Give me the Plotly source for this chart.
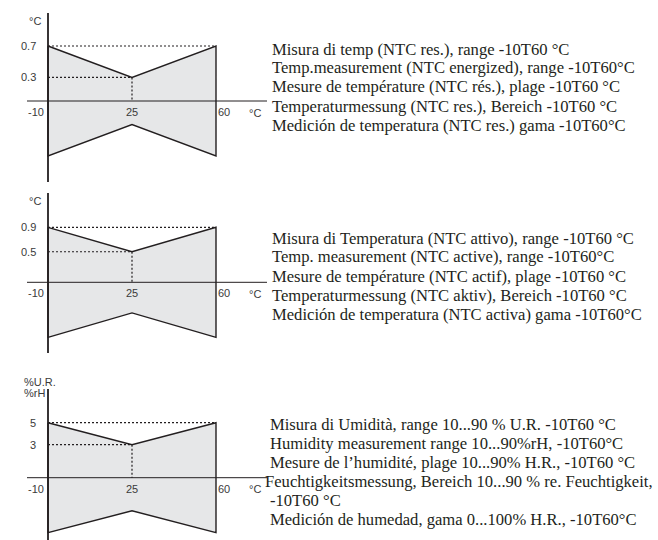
import plotly.graph_objects as go

W, H = 658, 540

# ---------------- data ----------------
x_points = [-10, 25, 60]
x_tick_labels = ["-10", "25", "60"]
x_unit = "°C"

tol_ntc_res = [0.7, 0.3, 0.7]        # °C
tol_ntc_active = [0.9, 0.5, 0.9]     # °C
tol_humidity = [5, 3, 5]             # %rH

y_units = [["°C"], ["°C"], ["%U.R.", "%rH"]]

text_ntc_res = [
    "Misura di temp (NTC res.), range -10T60 °C",
    "Temp.measurement (NTC energized), range -10T60°C",
    "Mesure de température (NTC rés.), plage -10T60 °C",
    "Temperaturmessung (NTC res.), Bereich -10T60 °C",
    "Medición de temperatura (NTC res.) gama -10T60°C",
]
text_ntc_active = [
    "Misura di Temperatura (NTC attivo), range -10T60 °C",
    "Temp. measurement (NTC active), range -10T60°C",
    "Mesure de température (NTC actif), plage -10T60 °C",
    "Temperaturmessung (NTC aktiv), Bereich -10T60 °C",
    "Medición de temperatura (NTC activa) gama -10T60°C",
]
text_humidity = [
    "Misura di Umidità, range 10...90 % U.R. -10T60 °C",
    "Humidity measurement range 10...90%rH, -10T60°C",
    "Mesure de l’humidité, plage 10...90% H.R., -10T60 °C",
    "Feuchtigkeitsmessung, Bereich 10...90 % re. Feuchtigkeit,",
    "-10T60 °C",
    "Medición de humedad, gama 0...100% H.R., -10T60°C",
]

series = [tol_ntc_res, tol_ntc_active, tol_humidity]
texts = [text_ntc_res, text_ntc_active, text_humidity]

# ---------------- layout geometry (pixels) ----------------
panels = [dict(top=13, axis=101, bottom=182, ty=49, tx=270),
          dict(top=193, axis=282.3, bottom=353, ty=238, tx=270),
          dict(top=389, axis=477.7, bottom=540, ty=424, tx=268)]
unit_y = [[20.7], [200.7], [381.7, 393.3]]
X_LEFT, X_RIGHT, X_YAXIS, X_60 = 27, 267, 48, 216
HALF = 55
LINE_SP = 19

INK = "#231f20"
LBL = "#3a3a3a"
FILL = "#e6e7e8"
SANS = "Liberation Sans Narrow, Arial Narrow, Liberation Sans, Arial, sans-serif"
SERIF = "Liberation Serif, Times New Roman, serif"

fig = go.Figure()
annotations = []
shapes = []
layout_axes = {}

s = (X_60 - X_YAXIS) / (x_points[-1] - x_points[0])
xr = [x_points[0] - (X_YAXIS - X_LEFT) / s, x_points[0] + (X_RIGHT - X_YAXIS) / s]

for i, (tol, p) in enumerate(zip(series, panels), start=1):
    k = HALF / max(tol)
    yr = [-(p["bottom"] - p["axis"]) / k, (p["axis"] - p["top"]) / k]
    xa = "x" if i == 1 else f"x{i}"
    ya = "y" if i == 1 else f"y{i}"
    xkey = "xaxis" if i == 1 else f"xaxis{i}"
    ykey = "yaxis" if i == 1 else f"yaxis{i}"
    layout_axes[xkey] = dict(domain=[X_LEFT / W, X_RIGHT / W], range=xr, anchor=ya,
                             showline=False, showgrid=False, zeroline=False,
                             showticklabels=False, ticks="", fixedrange=True)
    layout_axes[ykey] = dict(domain=[1 - p["bottom"] / H, 1 - p["top"] / H], range=yr, anchor=xa,
                             showline=False, showgrid=False, zeroline=False,
                             showticklabels=False, ticks="", fixedrange=True)

    # tolerance band
    bx = x_points + x_points[::-1] + [x_points[0]]
    by = tol + [-v for v in tol[::-1]] + [tol[0]]
    fig.add_trace(go.Scatter(x=bx, y=by, xaxis=xa, yaxis=ya, mode="lines",
                             fill="toself", fillcolor=FILL,
                             line=dict(color=INK, width=1.4), hoverinfo="skip"))
    # dotted guides
    fig.add_trace(go.Scatter(x=[x_points[0], x_points[2]], y=[tol[0], tol[2]],
                             xaxis=xa, yaxis=ya, mode="lines",
                             line=dict(color=INK, width=1.2, dash="2px,2px"), hoverinfo="skip"))
    fig.add_trace(go.Scatter(x=[x_points[0], x_points[1], x_points[1]], y=[tol[1], tol[1], 0],
                             xaxis=xa, yaxis=ya, mode="lines",
                             line=dict(color=INK, width=1.2, dash="2px,2px"), hoverinfo="skip"))

    # axis lines
    shapes.append(dict(type="line", xref=f"{xa} domain", x0=0, x1=1, yref=ya, y0=0, y1=0,
                       line=dict(color=INK, width=1), layer="above"))
    shapes.append(dict(type="line", xref=xa, x0=x_points[0], x1=x_points[0],
                       yref=f"{ya} domain", y0=0, y1=1,
                       line=dict(color=INK, width=1.8), layer="above"))

    # y tick labels
    for v in sorted(set(tol)):
        annotations.append(dict(text=f"{v:g}", x=x_points[0], y=v, xref=xa, yref=ya,
                                xanchor="right", yanchor="middle", xshift=-10, showarrow=False,
                                font=dict(family=SANS, size=11, color=LBL)))
    # x tick labels
    shifts = [-12, 0, 8]
    for xv, lab, sh in zip(x_points, x_tick_labels, shifts):
        annotations.append(dict(text=lab, x=xv, y=0, xref=xa, yref=ya,
                                xanchor="center", yanchor="top", xshift=sh, yshift=-3,
                                showarrow=False, font=dict(family=SANS, size=11, color=LBL)))
    # x unit
    annotations.append(dict(text=x_unit, x=255 / W, y=1 - (p["axis"] + 11.5) / H,
                            xref="paper", yref="paper", xanchor="center", yanchor="middle",
                            showarrow=False, font=dict(family=SANS, size=11, color=LBL)))
    # y unit
    units = y_units[i - 1]
    for u, uy in zip(units, unit_y[i - 1]):
        if len(units) == 1:
            annotations.append(dict(text=u, x=43 / W, y=1 - uy / H, xref="paper", yref="paper",
                                    xanchor="right", yanchor="middle", showarrow=False,
                                    font=dict(family=SANS, size=11, color=LBL)))
        else:
            annotations.append(dict(text=u, x=22 / W, y=1 - uy / H, xref="paper", yref="paper",
                                    xanchor="left", yanchor="middle", showarrow=False,
                                    font=dict(family=SANS, size=11, color=LBL)))

    # description text
    for j, line in enumerate(texts[i - 1]):
        tx = p["tx"]
        if line.startswith("Feuchtigkeits"):
            tx -= 5
        annotations.append(dict(text=line, x=tx / W, y=1 - (p["ty"] + j * LINE_SP) / H,
                                xref="paper", yref="paper", xanchor="left", yanchor="middle",
                                showarrow=False,
                                font=dict(family=SERIF, size=16.6, color="#231f20")))

fig.update_layout(width=W, height=H, margin=dict(l=0, r=0, t=0, b=0),
                  paper_bgcolor="white", plot_bgcolor="white", showlegend=False,
                  hovermode=False,
                  annotations=annotations, shapes=shapes, **layout_axes)

fig.write_html("out.html",
               config={"displayModeBar": False, "staticPlot": True},
               post_script="document.body.style.margin='0';document.body.style.padding='0';"
                           "document.body.style.overflow='hidden';")
